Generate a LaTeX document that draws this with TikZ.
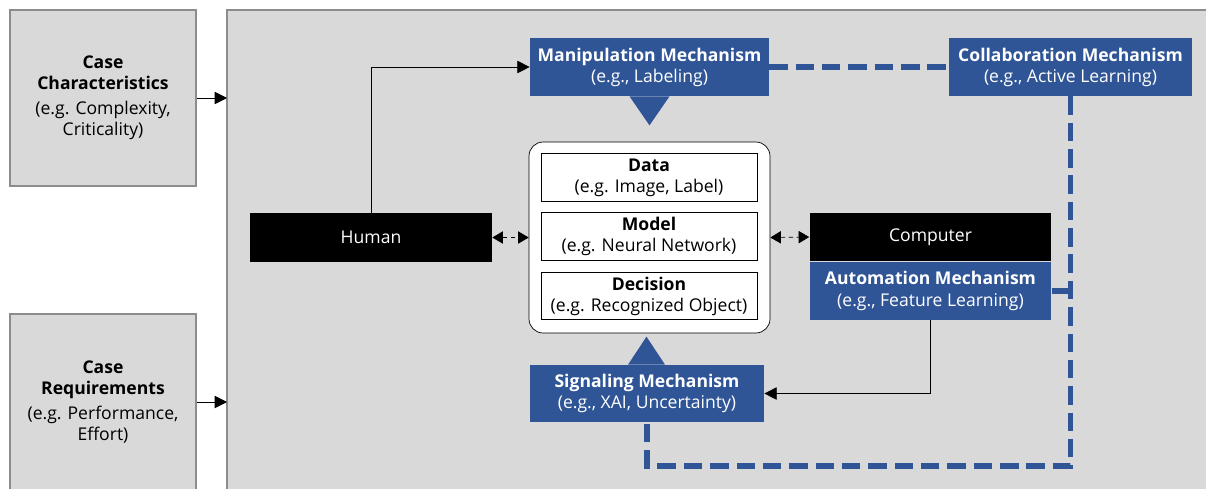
\documentclass[tikz,border=0pt]{standalone}
\usepackage{fontspec}
\setmainfont{Open Sans}
\usetikzlibrary{arrows.meta,positioning}
\definecolor{panelgray}{HTML}{D9D9D9}
\definecolor{edgegray}{HTML}{8C8C8C}
\definecolor{mechblue}{HTML}{2F5597}
\tikzset{
  casebox/.style={draw=edgegray,line width=1pt,fill=panelgray,minimum width=3.72cm,minimum height=3.52cm,align=center,inner sep=0pt},
  blackbox/.style={fill=black,text=white,minimum width=4.84cm,minimum height=0.97cm,inner sep=0pt},
  mechbox/.style={fill=mechblue,text=white,align=center,minimum height=1.16cm,inner sep=0pt},
  itembox/.style={draw,fill=white,align=center,minimum width=4.32cm,minimum height=0.95cm,inner sep=0pt},
  bluedash/.style={draw=mechblue,line width=3.2pt,dash pattern=on 10.5pt off 4.5pt},
  dblarrow/.style={dash pattern=on 2.5pt off 2pt,{Triangle[length=6pt,width=7pt]}-{Triangle[length=6pt,width=7pt]}},
  pointer/.style={-{Triangle[length=7pt,width=7pt]}}
}
\begin{document}
\begin{tikzpicture}[x=0.02cm,y=-0.02cm,font=\fontsize{10}{12}\selectfont]
  \clip (0,0) rectangle (1206,488);
  \fill[white] (0,0) rectangle (1206,488);
  \draw[draw=edgegray,line width=1pt,fill=panelgray] (227,10) rectangle (1230,510);
  \node[casebox] (chars) at (103,98) {\textbf{Case}\\\textbf{Characteristics}\\[2pt](e.g. Complexity,\\Criticality)};
  \node[casebox] (reqs) at (103,402) {\textbf{Case}\\\textbf{Requirements}\\[2pt](e.g. Performance,\\Effort)};
  \draw[pointer] (chars.east) -- (chars.east -| 227,0);
  \draw[pointer] (reqs.east) -- (reqs.east -| 227,0);
  \node[blackbox] (human) at (371,237.5) {Human};
  \node[draw,fill=white,rounded corners=8pt,minimum width=4.82cm,minimum height=3.82cm] (core) at (649.5,237.5) {};
  \node[itembox] (data) at (649,177.5) {\textbf{Data}\\(e.g. Image, Label)};
  \node[itembox] (model) at (649,236.5) {\textbf{Model}\\(e.g. Neural Network)};
  \node[itembox] (decision) at (649,296) {\textbf{Decision}\\(e.g. Recognized Object)};
  \node[blackbox] (computer) at (930.5,237) {Computer};
  \node[mechbox,minimum width=4.84cm,below=0pt of computer] (automation) {\textbf{Automation Mechanism}\\(e.g., Feature Learning)};
  \node[mechbox,minimum width=4.78cm] (manip) at (649.5,67) {\textbf{Manipulation Mechanism}\\(e.g., Labeling)};
  \node[mechbox,minimum width=4.86cm] (collab) at (1070.5,67) {\textbf{Collaboration Mechanism}\\(e.g., Active Learning)};
  \node[mechbox,minimum width=4.68cm,minimum height=1.14cm] (signal) at (647,393.5) {\textbf{Signaling Mechanism}\\(e.g., XAI, Uncertainty)};
  \coordinate (loop) at (650,466);
  \fill[mechblue] (manip.south) ++(-20,0) -- ++(40,0) -- ++(-20,29) -- cycle;
  \fill[mechblue] (signal.north) ++(-19,0) -- ++(37,0) -- ++(-18.5,-28) -- cycle;
  \draw[pointer] (human.north) |- (manip.west);
  \draw[dblarrow] (human.east) -- (core.west);
  \draw[dblarrow] (core.east) -- (computer.west);
  \draw[pointer] (automation.south) |- (signal.east);
  \draw[bluedash] (manip.east) -- (collab.west);
  \draw[bluedash] (collab.south) |- (signal.south |- loop) -- (signal.south);
  \draw[bluedash] (automation.east) -- (automation.east -| collab.south);
\end{tikzpicture}
\end{document}
